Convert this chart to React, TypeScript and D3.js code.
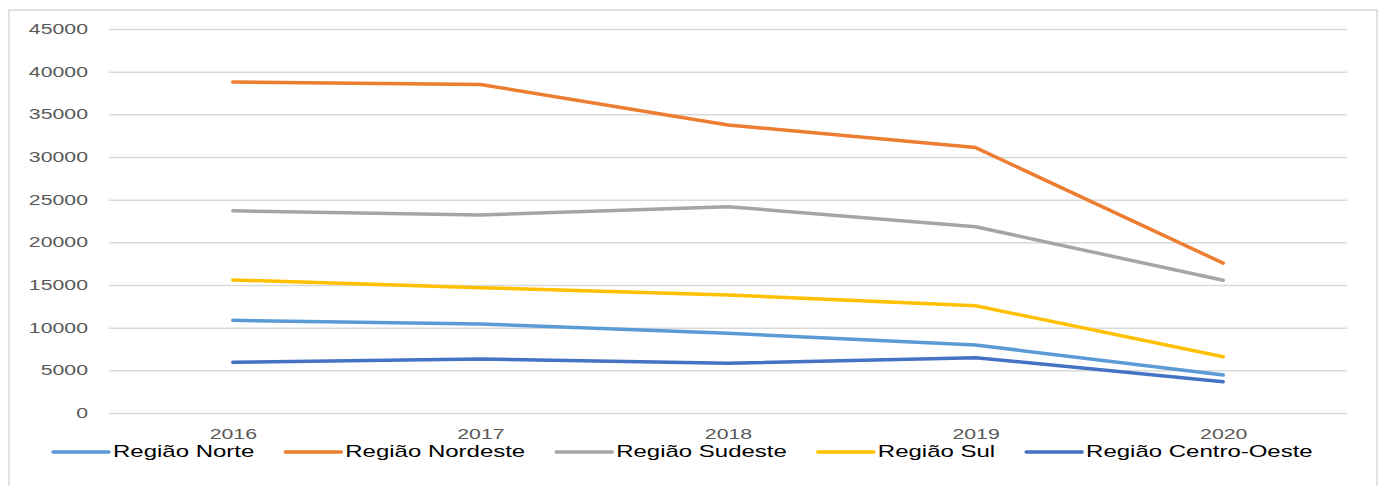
import React, { useRef, useEffect } from 'react';
import { select, scalePoint, scaleLinear, axisLeft, axisBottom, line } from 'd3';

const years = ['2016', '2017', '2018', '2019', '2020'];
const yTicks = [0, 5000, 10000, 15000, 20000, 25000, 30000, 35000, 40000, 45000];

const norte = [10860, 10430, 9340, 7970, 4450];
const nordeste = [38800, 38500, 33750, 31100, 17560];
const sudeste = [23700, 23200, 24180, 21830, 15550];
const sul = [15590, 14690, 13830, 12570, 6600];
const centroOeste = [5940, 6330, 5820, 6480, 3670];

const seriesNames = ['Região Norte', 'Região Nordeste', 'Região Sudeste', 'Região Sul', 'Região Centro-Oeste'];
const seriesColors = ['#5B9BD5', '#ED7D31', '#A5A5A5', '#FFC000', '#4472C4'];

const W = 1381;
const H = 486;
const SX = 1.52; // the reference has horizontally stretched glyphs
const LSX = 1.5;

export default function App() {
    const ref = useRef<SVGSVGElement | null>(null);

    useEffect(() => {
        if (!ref.current) return;
        const svg = select(ref.current);
        svg.selectAll('*').remove();

        const margin = { left: 109, right: 34, top: 29, bottom: 73 };
        const x = scalePoint<string>().domain(years).range([margin.left, W - margin.right]).padding(0.5);
        const y = scaleLinear().domain([0, 45000]).range([H - margin.bottom, margin.top]);

        // frame
        svg.append('rect')
            .attr('x', 9).attr('y', 10)
            .attr('width', 1368).attr('height', 490)
            .attr('fill', '#fff')
            .attr('stroke', '#D9D9D9')
            .attr('stroke-width', 1.5);

        // grid + y labels
        svg.append('g')
            .attr('transform', `translate(${margin.left},0)`)
            .call(axisLeft(y).tickValues(yTicks).tickSize(-(W - margin.left - margin.right)).tickPadding(21).tickFormat(d => String(d)))
            .call(g => g.select('.domain').remove())
            .call(g => g.selectAll('.tick line').attr('stroke', '#D9D9D9').attr('stroke-width', 1.5))
            .call(g => g.selectAll('.tick text')
                .attr('x', -21 / SX)
                .attr('transform', `scale(${SX},1)`)
                .attr('fill', '#595959')
                .style('font-family', '"Liberation Sans", Arial, sans-serif')
                .style('font-size', '14px'));

        // x labels
        svg.append('g')
            .attr('transform', `translate(0,${H - margin.bottom})`)
            .call(axisBottom(x).tickSize(0).tickPadding(0))
            .call(g => g.select('.domain').remove())
            .call(g => g.selectAll('.tick text')
                .attr('y', 26)
                .attr('dy', '0')
                .attr('transform', `scale(${SX},1)`)
                .attr('fill', '#595959')
                .style('font-family', '"Liberation Sans", Arial, sans-serif')
                .style('font-size', '14px'));

        const all = [norte, nordeste, sudeste, sul, centroOeste];
        const gen = line<number>().x((_, i) => x(years[i]) as number).y(d => y(d));
        all.forEach((vals, i) => {
            svg.append('path')
                .datum(vals)
                .attr('fill', 'none')
                .attr('stroke', seriesColors[i])
                .attr('stroke-width', 3.5)
                .attr('stroke-linecap', 'round')
                .attr('stroke-linejoin', 'round')
                .attr('d', gen);
        });

        // legend
        const leg = svg.append('g');
        let cx = 53;
        const ly = 452;
        seriesNames.forEach((name, i) => {
            leg.append('line')
                .attr('x1', cx).attr('x2', cx + 56)
                .attr('y1', ly).attr('y2', ly)
                .attr('stroke', seriesColors[i])
                .attr('stroke-width', 3.5)
                .attr('stroke-linecap', 'round');
            const t = leg.append('text')
                .attr('transform', `translate(${cx + 60},457) scale(${LSX},1)`)
                .attr('fill', '#000')
                .style('font-family', '"Liberation Sans", Arial, sans-serif')
                .style('font-size', '16px')
                .text(name);
            const w = (t.node() as SVGTextElement).getComputedTextLength() * LSX;
            cx = cx + 60 + w + 31;
        });
    }, []);

    return (
        <svg ref={ref} width={W} height={H} style={{ position: 'absolute', left: 0, top: 0, background: '#fff' }} />
    );
}
